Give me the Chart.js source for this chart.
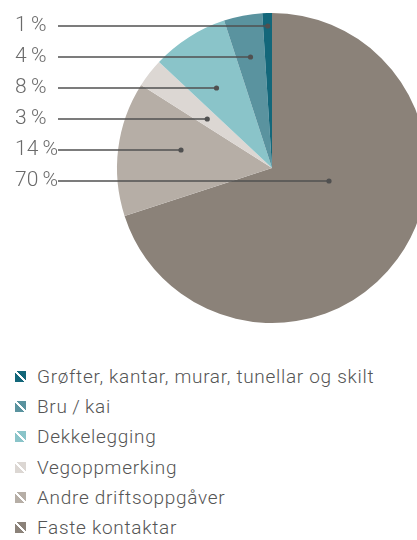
<!DOCTYPE html>
<html>
<head>
<meta charset="utf-8">
<script src="https://cdn.jsdelivr.net/npm/chart.js@4/dist/chart.umd.min.js"></script>
<style>
  html, body { margin: 0; padding: 0; background: #fff; overflow: hidden; }
  #wrap { position: relative; width: 417px; height: 540px; overflow: hidden; }
  #c { position: absolute; left: 0; top: 0; }
  #legend { position: absolute; left: 15px; top: 361px; font-family: Roboto, "Open Sans", sans-serif; font-weight: 300; font-size: 19px; letter-spacing: 0.7px; color: #555; }
  .row { height: 30.3px; display: flex; align-items: center; white-space: nowrap; }
  .ico { width: 11px; height: 11px; margin-right: 11px; flex: none; }
</style>
</head>
<body>
<div id="wrap">
  <canvas id="c" width="544" height="336"></canvas>
  <div id="legend"></div>
</div>
<script>
// Data (legend order, top to bottom)
const categories = ['Grøfter, kantar, murar, tunellar og skilt', 'Bru\u2009/\u2009kai', 'Dekkelegging', 'Vegoppmerking', 'Andre driftsoppgåver', 'Faste kontaktar'];
const shares = [1, 4, 8, 3, 14, 70];
const palette = ['#13677a', '#5a939f', '#8ac4c9', '#dcd7d3', '#b6aea6', '#8b8279'];

// Slices run counter-clockwise from 12 o'clock in legend order,
// so feed Chart.js (clockwise) the reversed order.
const pieLabels = categories.slice().reverse();
const pieValues = shares.slice().reverse();
const pieColors = palette.slice().reverse();

const LABEL_TOP = 26, LABEL_STEP = 31, LABEL_X = 15, LINE_X = 58;

const leaderPlugin = {
  id: 'leaders',
  afterDraw(chart) {
    const meta = chart.getDatasetMeta(0);
    const ctx = chart.ctx;
    const n = shares.length;
    ctx.save();
    for (let i = 0; i < n; i++) {
      const arc = meta.data[n - 1 - i];
      const p = arc.getProps(['x', 'y', 'startAngle', 'endAngle', 'outerRadius'], true);
      const ly = LABEL_TOP + i * LABEL_STEP;
      let minX = Infinity, maxX = -Infinity;
      for (let px = p.x - p.outerRadius; px <= p.x + p.outerRadius; px += 0.5) {
        const dx = px - p.x, dy = ly - p.y;
        if (dx * dx + dy * dy > p.outerRadius * p.outerRadius) continue;
        let a = Math.atan2(dy, dx);
        while (a < p.startAngle) a += Math.PI * 2;
        while (a >= p.startAngle + Math.PI * 2) a -= Math.PI * 2;
        if (a <= p.endAngle) { minX = Math.min(minX, px); maxX = Math.max(maxX, px); }
      }
      const dotX = (minX + maxX) / 2;
      ctx.strokeStyle = '#505050';
      ctx.lineWidth = 1.3;
      ctx.beginPath();
      ctx.moveTo(LINE_X, ly);
      ctx.lineTo(dotX, ly);
      ctx.stroke();
      ctx.fillStyle = '#505050';
      ctx.beginPath();
      ctx.arc(dotX, ly, 2.6, 0, Math.PI * 2);
      ctx.fill();
      ctx.fillStyle = '#6a6a6a';
      ctx.font = '300 21px Roboto, "Open Sans", sans-serif';
      ctx.textAlign = 'left';
      ctx.textBaseline = 'middle';
      ctx.fillText(shares[i] + '\u2009%', LABEL_X, ly);
    }
    ctx.restore();
  }
};

new Chart(document.getElementById('c'), {
  type: 'pie',
  data: {
    labels: pieLabels,
    datasets: [{ data: pieValues, backgroundColor: pieColors, borderWidth: 0 }]
  },
  options: {
    responsive: false,
    animation: false,
    devicePixelRatio: 1,
    layout: { padding: { top: 13, bottom: 13, left: 0, right: 0 } },
    plugins: { legend: { display: false }, tooltip: { enabled: false } }
  },
  plugins: [leaderPlugin]
});

// Legend
const legend = document.getElementById('legend');
categories.forEach((name, i) => {
  const row = document.createElement('div');
  row.className = 'row';
  const ico = document.createElement('span');
  ico.className = 'ico';
  const c = palette[i];
  ico.style.background = `linear-gradient(to top right, ${c} 45%, rgba(255,255,255,0.85) 45%, rgba(255,255,255,0.85) 55%, ${c} 55%)`;
  const t = document.createElement('span');
  t.textContent = name;
  row.appendChild(ico);
  row.appendChild(t);
  legend.appendChild(row);
});
</script>
</body>
</html>
